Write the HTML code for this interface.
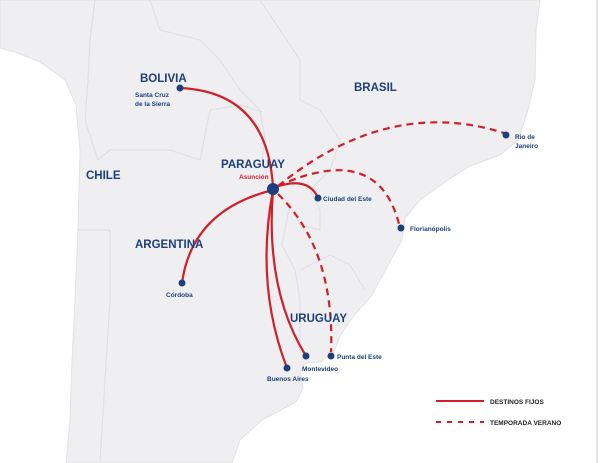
<!DOCTYPE html>
<html><head><meta charset="utf-8"><style>
html,body{margin:0;padding:0;background:#fff}
svg{display:block}
text{font-family:"Liberation Sans",sans-serif;font-weight:bold;fill:#1d3f7c}
.big{font-size:11.5px}
.sm{font-size:6.5px}
</style></head><body>
<svg width="600" height="463" viewBox="0 0 600 463">
<rect width="600" height="463" fill="#fff"/>
<path d="M0,0 L540,0 L536,30 L535,80 L528,110 L518,140 L500,155 L470,166 L448,180 L420,200 L405,218 L402,240 L392,258 L372,295 L352,318 L340,336 L334,352 L320,362 L305,363 L300,372 L303,388 L296,402 L262,420 L240,440 L232,463 L66,463 L70,420 L72,360 L75,300 L78,230 L80,150 L76,105 L65,80 L40,62 L15,52 L0,48 Z" fill="#efeff1" stroke="#e2e2e5" stroke-width="1"/>
<g fill="none" stroke="#e0e0e4" stroke-width="1.2">
<path d="M95,0 L90,40 L88,80 L85,120 L98,160 L110,150 L170,150 L200,160"/>
<path d="M150,0 L160,30 L200,40 L220,60 L240,90 L260,110 L265,140 L262,160"/>
<path d="M200,160 L210,110 L240,105 L262,112"/>
<path d="M262,160 L270,185 L290,205 L300,225 L320,230 L320,210 L310,190"/>
<path d="M290,205 L282,245 L295,270 L300,300 L300,340"/>
<path d="M300,270 L330,255 L350,265 L365,290"/>
<path d="M78,230 L110,230 L110,300 L105,380 L100,463"/>
<path d="M310,190 L330,170 L340,140 L320,110 L300,100 L300,60 L280,30 L260,0"/>
</g>
<line x1="597" y1="0" x2="597" y2="463" stroke="#e3e3e6" stroke-width="2"/>
<g fill="none" stroke="#d11f2a" stroke-width="2.2" stroke-linecap="round">
<path d="M180,88 Q268,92 273,188"/>
<path d="M182,283 Q192,210 273,190"/>
<path d="M273,188 Q308,175 318,198"/>
<path d="M273,190 Q255,285 287,368"/>
<path d="M273,190 Q265,290 306,356"/>
</g>
<g fill="none" stroke="#d11f2a" stroke-width="2.2" stroke-dasharray="7,5">
<path d="M278,186 Q390,95 507,134"/>
<path d="M278,186 Q380,140 400,228"/>
<path d="M278,194 Q335,250 331,352"/>
</g>
<g fill="#1d3f7c">
<circle cx="180" cy="88" r="3.5"/><circle cx="182" cy="283" r="3.5"/>
<circle cx="318" cy="198" r="3.5"/><circle cx="401" cy="228" r="3.5"/>
<circle cx="506" cy="135" r="3.5"/><circle cx="287" cy="368" r="3.5"/>
<circle cx="306" cy="356" r="3.5"/><circle cx="331" cy="356" r="3.5"/>
<circle cx="273" cy="189" r="6"/>
</g>
<text class="big" x="140" y="82">BOLIVIA</text>
<text class="sm" x="135" y="97">Santa Cruz</text>
<text class="sm" x="135" y="106">de la Sierra</text>
<text class="big" x="354" y="91">BRASIL</text>
<text class="big" x="86" y="179">CHILE</text>
<text class="big" x="221" y="168">PARAGUAY</text>
<text class="sm" x="239" y="179" style="fill:#d11f2a">Asunción</text>
<text class="big" x="135" y="248">ARGENTINA</text>
<text class="big" x="290" y="322">URUGUAY</text>
<text class="sm" x="166" y="297">Córdoba</text>
<text class="sm" x="323" y="201">Ciudad del Este</text>
<text class="sm" x="410" y="231">Florianópolis</text>
<text class="sm" x="515" y="139">Rio de</text>
<text class="sm" x="515" y="148">Janeiro</text>
<text class="sm" x="337" y="359">Punta del Este</text>
<text class="sm" x="302" y="371">Montevideo</text>
<text class="sm" x="267" y="381">Buenos Aires</text>
<line x1="436" y1="401" x2="484" y2="401" stroke="#d11f2a" stroke-width="2"/>
<line x1="436" y1="422" x2="484" y2="422" stroke="#d11f2a" stroke-width="2" stroke-dasharray="5,6"/>
<text class="sm" x="490" y="404" style="fill:#222">DESTINOS FIJOS</text>
<text class="sm" x="490" y="425" style="fill:#222">TEMPORADA VERANO</text>
</svg>
</body></html>
